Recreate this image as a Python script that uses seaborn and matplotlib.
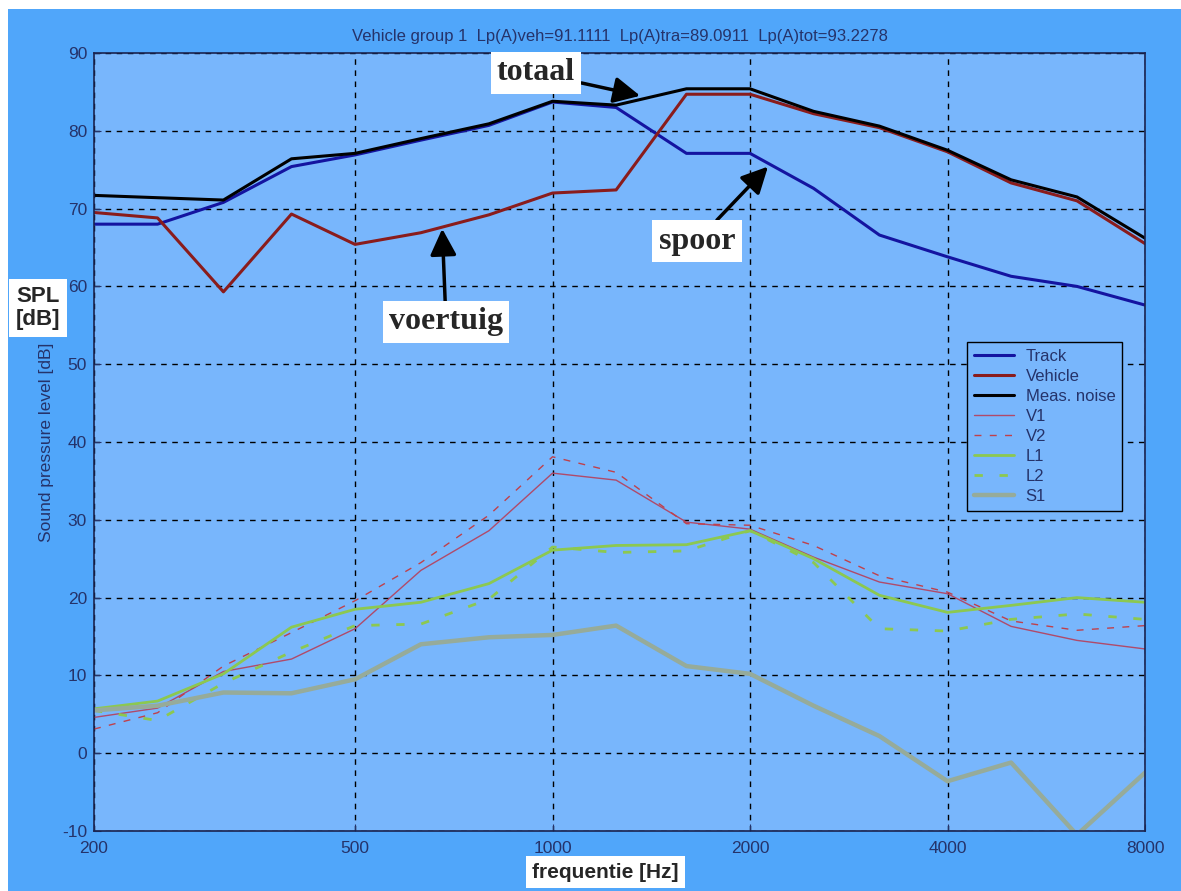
import numpy as np
import pandas as pd
import matplotlib
matplotlib.use("Agg")
import matplotlib.pyplot as plt
from matplotlib.patches import Rectangle
from matplotlib.ticker import FixedLocator, NullLocator, FixedFormatter
import seaborn as sns


## Data (1/3 octave bands)
freqs = [200, 250, 315, 400, 500, 630, 800, 1000, 1250, 1600, 2000, 2500, 3150, 4000, 5000, 6300, 8000]

track = [68.0, 68.0, 70.8, 75.4, 76.9, 78.8, 80.7, 83.7, 83.0, 77.1, 77.1, 72.6, 66.6, 63.8, 61.3, 60.0, 57.6]
vehicle = [69.5, 68.8, 59.3, 69.3, 65.4, 66.9, 69.2, 72.0, 72.4, 84.7, 84.7, 82.2, 80.4, 77.3, 73.3, 71.0, 65.5]
meas_noise = [71.7, 71.4, 71.1, 76.4, 77.1, 79.0, 80.9, 83.8, 83.3, 85.4, 85.4, 82.5, 80.6, 77.5, 73.7, 71.5, 66.2]

v1 = [4.6, 5.8, 10.5, 12.1, 16.0, 23.5, 28.6, 36.0, 35.1, 29.7, 28.8, 25.2, 22.0, 20.5, 16.3, 14.5, 13.4]
v2 = [3.1, 5.2, 11.2, 15.5, 19.6, 24.5, 30.6, 38.1, 36.1, 29.5, 29.3, 26.7, 22.8, 20.7, 17.0, 15.8, 16.4]
l1 = [5.7, 6.7, 10.2, 16.2, 18.5, 19.4, 21.8, 26.1, 26.7, 26.8, 28.6, 25.0, 20.3, 18.1, 19.0, 20.0, 19.4]
l2 = [5.5, 4.2, 9.0, 13.0, 16.4, 16.6, 19.8, 26.5, 25.8, 26.0, 28.6, 24.5, 16.0, 15.7, 17.2, 17.9, 17.2]
s1 = [5.5, 6.1, 7.8, 7.7, 9.5, 14.0, 14.9, 15.2, 16.4, 11.2, 10.2, 6.1, 2.2, -3.6, -1.2, -10.5, -2.5]

x_ticks = [200, 500, 1000, 2000, 4000, 8000]
x_ticklabels = ["200", "500", "1000", "2000", "4000", "8000"]
y_ticks = [-10, 0, 10, 20, 30, 40, 50, 60, 70, 80, 90]

title = "Vehicle group 1  Lp(A)veh=91.1111  Lp(A)tra=89.0911  Lp(A)tot=93.2278"


## Style
sns.set_style("ticks")
plt.rcParams["font.family"] = ["Liberation Sans", "DejaVu Sans"]
plt.rcParams["axes.unicode_minus"] = False

fig_blue = "#50a6fa"
ax_blue = "#78b6fc"
navy = "#25336a"

fig = plt.figure(figsize=(11.81, 8.91), dpi=100)
fig.patch.set_facecolor("white")
fig.add_artist(Rectangle((8 / 1181, 0), 1, 1 - 9 / 891, transform=fig.transFigure,
                         facecolor=fig_blue, edgecolor="none", zorder=-5))

ax = fig.add_axes([94 / 1181, 1 - 831 / 891, (1145 - 94) / 1181, (831 - 53) / 891])
ax.set_facecolor(ax_blue)

# series: (values, label, color, linestyle, linewidth)
series = [
    (track, "Track", "#1414a0", "-", 2.2),
    (vehicle, "Vehicle", "#8a1c1c", "-", 2.2),
    (meas_noise, "Meas. noise", "black", "-", 2.2),
    (v1, "V1", "#b04a6a", "-", 1.0),
    (v2, "V2", "#c0404a", (0, (5, 6)), 1.0),
    (l1, "L1", "#8cc850", "-", 2.0),
    (l2, "L2", "#8cc850", (0, (3, 6)), 2.0),
    (s1, "S1", "#96ab9a", "-", 3.2),
]

for vals, lab, col, ls, lw in series:
    sns.lineplot(x=freqs, y=vals, ax=ax, color=col, linestyle=ls, linewidth=lw, label=lab)

ax.set_xscale("log")
ax.set_xlim(200, 8000)
ax.set_ylim(-10, 90)
ax.xaxis.set_major_locator(FixedLocator(x_ticks))
ax.xaxis.set_major_formatter(FixedFormatter(x_ticklabels))
ax.xaxis.set_minor_locator(NullLocator())
ax.set_yticks(y_ticks)
ax.grid(True, color="black", linestyle=(0, (4, 4)), linewidth=1.0)
ax.tick_params(direction="in", length=5, color=navy, labelcolor=navy, labelsize=12.5)
ax.tick_params(axis="x", pad=7)
ax.tick_params(axis="y", pad=5)
for sp in ax.spines.values():
    sp.set_color("#1a2450")
    sp.set_linewidth(1.2)

ax.set_title(title, fontsize=12, color=navy, pad=9)
ax.set_ylabel("Sound pressure level [dB]", fontsize=12.5, color=navy, labelpad=6)
ax.set_xlabel("")

leg = ax.legend(loc="upper left", bbox_to_anchor=((959 - 94) / 1051, (831 - 334) / 778),
                fontsize=12, frameon=True, fancybox=False, facecolor=ax_blue,
                edgecolor="black", framealpha=1, handlelength=2.4, labelspacing=0.3,
                borderpad=0.4, handletextpad=0.7)
for t in leg.get_texts():
    t.set_color(navy)


## Annotations
box = dict(boxstyle="square,pad=0.2", facecolor="white", edgecolor="none")
arrow = dict(arrowstyle="-|>", color="black", lw=2.5, mutation_scale=40, shrinkA=0, shrinkB=0)
font_ann = dict(fontsize=23, fontweight="bold", family=["Liberation Serif", "DejaVu Serif"],
                ha="center", va="center", bbox=box)

ax.annotate("totaal", xy=(1360, 84.5), xytext=(536, 891 - 73), textcoords="figure pixels",
            arrowprops=arrow, **font_ann)
ax.annotate("voertuig", xy=(679, 67.4), xytext=(446, 891 - 322), textcoords="figure pixels",
            arrowprops=arrow, **font_ann)
ax.annotate("spoor", xy=(2130, 75.4), xytext=(697, 891 - 241), textcoords="figure pixels",
            arrowprops=arrow, **font_ann)

fig.text(38 / 1181, 1 - 308 / 891, "SPL\n[dB]", ha="center", va="center", fontsize=16,
         fontweight="bold", linespacing=1.15,
         bbox=dict(boxstyle="square,pad=0.3", facecolor="white", edgecolor="none"))
fig.text(605 / 1181, 1 - 872 / 891, "frequentie [Hz]", ha="center", va="center", fontsize=15,
         fontweight="bold",
         bbox=dict(boxstyle="square,pad=0.3", facecolor="white", edgecolor="none"))

fig.savefig("out.png", dpi=100)
